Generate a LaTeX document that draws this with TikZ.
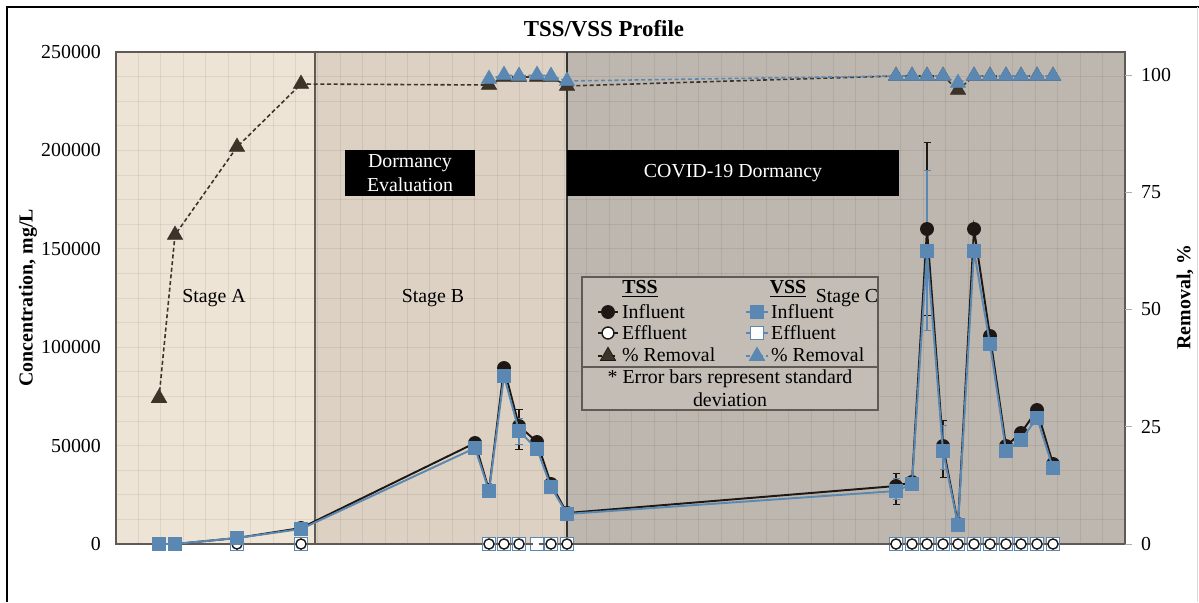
\documentclass[tikz,border=0pt]{standalone}
\usepackage{fontspec}
\setmainfont{Liberation Serif}
\usetikzlibrary{arrows.meta,plotmarks}
\definecolor{stagea}{HTML}{EEE4D6}
\definecolor{stageb}{HTML}{DDD1C4}
\definecolor{stagec}{HTML}{BEB7B0}
\definecolor{tssdark}{HTML}{1E1713}
\definecolor{tssbrown}{HTML}{3C3428}
\definecolor{vssblue}{HTML}{5B88B2}
\definecolor{framegray}{HTML}{5F5A55}
\tikzset{
  gridline/.style={draw=black, opacity=0.07, line width=0.5pt},
  tssin/.style={draw=tssdark, line width=1.1pt, mark=*, mark size=3.7pt, mark options={fill=tssdark, line width=0.5pt}},
  vssin/.style={draw=vssblue, line width=1.1pt, mark=square*, mark size=3.8pt, mark options={fill=vssblue, line width=0.5pt}},
  tssout/.style={draw=framegray, line width=0.6pt, dashed, mark=*, mark size=2.9pt, mark options={solid, draw=tssdark, fill=white, line width=0.8pt}},
  vssout/.style={draw=vssblue, line width=0.6pt, dashed, mark=square*, mark size=3.7pt, mark options={solid, draw=vssblue, fill=white, line width=1pt}},
  tssrem/.style={draw=tssbrown, line width=0.9pt, dash pattern=on 2.3pt off 1.5pt, mark=triangle*, mark size=5pt, mark options={solid, fill=tssbrown, line width=0.4pt}},
  vssrem/.style={draw=vssblue, line width=0.9pt, dash pattern=on 2.3pt off 1.5pt, mark=triangle*, mark size=5pt, mark options={solid, fill=vssblue, line width=0.4pt}},
  errbar/.style={line width=0.7pt, {Bar[width=4pt]}-{Bar[width=4pt]}},
  blackbox/.style={fill=black, text=white, align=center, minimum height=0.92cm, inner sep=0pt},
}
\begin{document}
\begin{tikzpicture}[x=0.02cm, y=-0.02cm, font=\fontsize{11.3}{13.2}\selectfont]
\useasboundingbox (0,0) rectangle (1199,602);
% frame
\draw[line width=1.6pt] (7,602) -- (7,7) -- (1199,7);
\draw[black!15] (1197,7) -- (1197,602);
\node (title) at (604,29) {\fontsize{13}{15}\selectfont\bfseries TSS/VSS Profile};
% stages
\fill[stagea] (116,52) rectangle (315,544);
\fill[stageb] (315,52) rectangle (567,544);
\fill[stagec] (567,52) rectangle (1125,544);
\foreach \i in {1,...,44}
  \draw[gridline] ({116+\i*22.42},52) -- ({116+\i*22.42},544);
\foreach \j in {1,...,19}
  \draw[gridline] (116,{544-\j*24.6}) -- (1125,{544-\j*24.6});
\draw[framegray, line width=0.9pt] (116,52) rectangle (1125,544);
\draw[framegray, line width=0.9pt] (315,52) -- (315,544);
\draw[black!80, line width=0.9pt] (567,52) -- (567,544);
% axes
\foreach \v/\y in {0/544, 50000/445.6, 100000/347.2, 150000/248.8, 200000/150.4, 250000/52}
  \node[anchor=east] (lt\v) at (107,\y) {\v};
\foreach \v/\y in {0/544, 25/426.7, 50/309.4, 75/192.1, 100/74.9} {
  \draw[framegray!50] (1125,\y) -- (1132,\y);
  \node[anchor=west] (rt\v) at (1135,\y) {\v};
}
\node[rotate=90] (ylabel) at (28,298) {\bfseries Concentration, mg/L};
\node[rotate=90] (rlabel) at (1185,297) {\bfseries Removal, \%};
% boxes and stage names
\node[blackbox, minimum width=2.6cm] (dormbox) at (410,173) {Dormancy\\Evaluation};
\node[blackbox, minimum width=6.64cm] (covidbox) at (733,173) {COVID-19 Dormancy};
\node (stagea) at (214,298) {Stage A};
\node (stageb) at (433,298) {Stage B};
% legend
\draw[framegray, fill=stagec!92!white, line width=0.8pt] (582,277) rectangle (878,410);
\draw[framegray, line width=0.8pt] (582,367) -- (878,367);
\node (legtss) at (640,289) {\bfseries\underline{TSS}};
\node (legvss) at (788,289) {\bfseries\underline{VSS}};
\draw[tssin, mark indices={2}] plot coordinates {(598,312) (608,312) (618,312)};
\draw[tssout, solid, draw=tssdark, mark indices={2}, mark size=3.4pt] plot coordinates {(598,333) (608,333) (618,333)};
\draw[tssrem, draw=tssdark, mark indices={2}] plot coordinates {(598,356) (608,356) (618,356)};
\draw[vssin, mark indices={2}] plot coordinates {(746,312) (757,312) (768,312)};
\draw[vssout, solid, mark indices={2}] plot coordinates {(746,333) (757,333) (768,333)};
\draw[vssrem, mark indices={2}] plot coordinates {(746,356) (757,356) (768,356)};
\node[anchor=west, inner sep=1pt] (l1) at (620,312) {Influent};
\node[anchor=west, inner sep=1pt] (l2) at (620,333) {Effluent};
\node[anchor=west, inner sep=1pt] (l3) at (620,355) {\% Removal};
\node[anchor=west, inner sep=1pt] (l4) at (769,312) {Influent};
\node[anchor=west, inner sep=1pt] (l5) at (769,333) {Effluent};
\node[anchor=west, inner sep=1pt] (l6) at (769,355) {\% Removal};
\node[align=center] (errnote) at (730,388) {* Error bars represent standard\\deviation};
\node (stagec) at (847,298) {Stage C};
% error bars
\draw[errbar, tssdark] (519,409) -- (519,450);
\draw[errbar, vssblue] (519,418) -- (519,445);
\draw[errbar, tssdark] (896,473) -- (896,505);
\draw[errbar, vssblue] (896,478) -- (896,500);
\draw[errbar, tssdark] (927,142) -- (927,316);
\draw[errbar, vssblue] (927,170) -- (927,331);
\draw[errbar, tssdark] (943,420) -- (943,478);
\draw[errbar, vssblue] (943,425) -- (943,470);
% % removal
\draw[tssrem] plot coordinates {(159,398) (175,235) (237,147) (301,84) (489,85) (504,77) (519,77) (537,77) (551,77) (567,86) (896,76) (912,76) (927,76) (943,76) (958,90) (974,76) (990,76) (1006,76) (1021,76) (1037,76) (1053,76)};
\draw[vssrem] plot coordinates {(489,79) (504,75) (519,76) (537,75) (551,76) (567,81) (896,76) (912,76) (927,76) (943,76) (958,83) (974,76) (990,76) (1006,76) (1021,76) (1037,76) (1053,76)};
% effluent
\draw[vssout] plot coordinates {(159,544) (175,544) (237,544) (301,544) (489,544) (504,544) (519,544) (537,544) (551,544) (567,544) (896,544) (912,544) (927,544) (943,544) (958,544) (974,544) (990,544) (1006,544) (1021,544) (1037,544) (1053,544)};
\draw[tssout] plot coordinates {(159,544) (175,544) (237,544) (301,544) (489,544) (504,544) (519,544) (551,544) (567,544) (896,544) (912,544) (927,544) (943,544) (958,544) (974,544) (990,544) (1006,544) (1021,544) (1037,544) (1053,544)};
% influent
\draw[tssin] plot coordinates {(159,544) (175,544) (237,538) (301,528) (475,443) (489,490) (504,368) (519,426) (537,442) (551,484) (567,513) (896,486) (912,482) (927,229) (943,446) (958,524) (974,229) (990,336) (1006,446) (1021,433) (1037,410) (1053,464)};
\draw[vssin] plot coordinates {(159,544) (175,544) (237,538) (301,529) (475,448) (489,491) (504,376) (519,431) (537,449) (551,487) (567,514) (896,491) (912,484) (927,251) (943,451) (958,525) (974,251) (990,344) (1006,451) (1021,440) (1037,418) (1053,468)};
\end{tikzpicture}
\end{document}
